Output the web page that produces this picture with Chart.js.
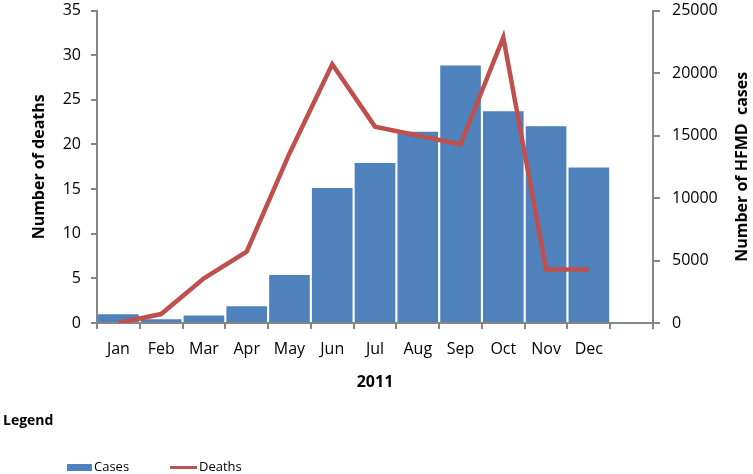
<!DOCTYPE html>
<html>
<head>
<meta charset="utf-8">
<script src="https://cdn.jsdelivr.net/npm/chart.js@4.4.1/dist/chart.umd.min.js"></script>
<style>
  body { margin:0; background:#fff; overflow:hidden; }
  #wrap { position:relative; width:753px; height:474px; overflow:hidden; font-family:"Open Sans", sans-serif; }
  #chart { position:absolute; left:0; top:-11px; }
  #legendTitle { position:absolute; left:3px; top:410px; font-weight:bold; font-size:14px; color:#000; }
  .item { position:absolute; top:457px; font-size:13px; color:#000; }
  .swatch { display:inline-block; vertical-align:middle; margin-right:2px; }
</style>
</head>
<body>
<div id="wrap">
  <canvas id="chart" width="753" height="485"></canvas>
  <div id="legendTitle">Legend</div>
  <div class="item" style="left:67px"><span class="swatch" style="width:25px;height:7px;background:#4F81BD"></span>Cases</div>
  <div class="item" style="left:170px"><span class="swatch" style="width:27px;height:3px;background:#C0504D"></span>Deaths</div>
</div>
<script>
var months = ['Jan','Feb','Mar','Apr','May','Jun','Jul','Aug','Sep','Oct','Nov','Dec',''];
var cases  = [700,300,600,1350,3850,10800,12800,15300,20600,16950,15750,12450,null];
var deaths = [0,1,5,8,19,29,22,21,20,32,6,6,null];

var axisGrey = '#868686';
var tickFont = { family:'Open Sans', size:16 };
var titleFont = { family:'Open Sans', size:16, weight:'bold' };

// right axis title reads bottom-to-top in the original, so draw it by hand
var rightTitle = {
  id: 'rightTitle',
  afterDraw: function(chart){
    var c = chart.ctx, a = chart.chartArea;
    c.save();
    c.translate(742, (a.top + a.bottom) / 2);
    c.rotate(-Math.PI / 2);
    c.font = 'bold 16px "Open Sans"';
    c.fillStyle = '#000';
    c.textAlign = 'center';
    c.textBaseline = 'middle';
    c.fillText('Number of HFMD  cases', 0, 0);
    c.restore();
  }
};

var ctx = document.getElementById('chart').getContext('2d');
new Chart(ctx, {
  data: {
    labels: months,
    datasets: [
      {
        type: 'line',
        label: 'Deaths',
        data: deaths,
        yAxisID: 'yL',
        borderColor: '#C0504D',
        borderWidth: 4.5,
        pointRadius: 0,
        tension: 0,
        order: 0
      },
      {
        type: 'bar',
        label: 'Cases',
        data: cases,
        yAxisID: 'yR',
        backgroundColor: '#4F81BD',
        categoryPercentage: 1,
        barPercentage: 0.95,
        order: 1
      }
    ]
  },
  options: {
    responsive: false,
    animation: false,
    layout: { padding: { top: 0, bottom: 78, left: 0, right: 0 } },
    plugins: { legend: { display: false }, tooltip: { enabled: false } },
    scales: {
      x: {
        offset: true,
        grid: { display: true, offset: true, drawOnChartArea: false, color: axisGrey, lineWidth: 2, tickLength: 6 },
        border: { color: axisGrey, width: 2 },
        ticks: { color: '#000', font: tickFont, padding: 11, maxRotation: 0 },
        title: { display: true, text: '2011', color: '#000', font: titleFont, padding: { top: 4 } },
        afterFit: function(s){ s.height = 73; }
      },
      yL: {
        position: 'left',
        min: 0, max: 35,
        ticks: { stepSize: 5, color: '#000', font: tickFont, padding: 10 },
        grid: { drawOnChartArea: false, color: axisGrey, lineWidth: 2, tickLength: 6 },
        border: { color: axisGrey, width: 2 },
        title: { display: true, text: 'Number of deaths', color: '#000', font: titleFont, padding: { top: 30 } },
        afterFit: function(s){ s.width = 97; }
      },
      yR: {
        position: 'right',
        min: 0, max: 25000,
        ticks: { stepSize: 5000, color: '#000', font: tickFont, padding: 12,
                 callback: function(v){ return String(v); } },
        grid: { drawOnChartArea: false, color: axisGrey, lineWidth: 2, tickLength: 7 },
        border: { color: axisGrey, width: 2 },
        afterFit: function(s){ s.width = 100; }
      }
    }
  },
  plugins: [rightTitle]
});
</script>
</body>
</html>
